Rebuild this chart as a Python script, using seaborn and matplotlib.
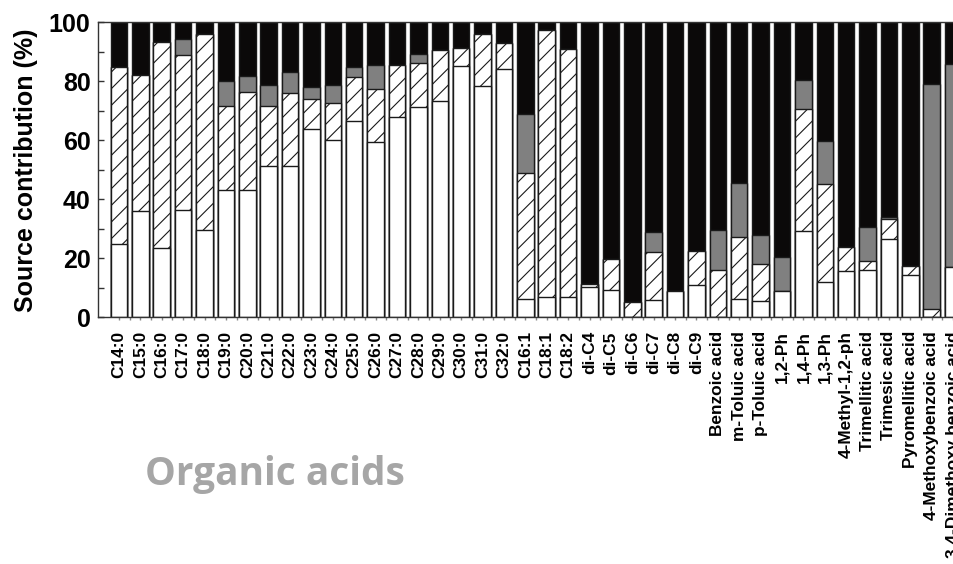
import matplotlib
matplotlib.use("Agg")
import matplotlib.pyplot as plt
from matplotlib.ticker import MultipleLocator, FixedLocator
import numpy as np
import pandas as pd
import seaborn as sns

# Compounds on the x axis
compounds = [
    "C14:0", "C15:0", "C16:0", "C17:0", "C18:0", "C19:0", "C20:0", "C21:0",
    "C22:0", "C23:0", "C24:0", "C25:0", "C26:0", "C27:0", "C28:0", "C29:0",
    "C30:0", "C31:0", "C32:0", "C16:1", "C18:1", "C18:2",
    "di-C4", "di-C5", "di-C6", "di-C7", "di-C8", "di-C9",
    "Benzoic acid", "m-Toluic acid", "p-Toluic acid", "1,2-Ph", "1,4-Ph",
    "1,3-Ph", "4-Methyl-1,2-ph", "Trimellitic acid", "Trimesic acid",
    "Pyromellitic acid", "4-Methoxybenzoic acid", "3,4-Dimethoxy benzoic acid",
]

# Source contributions (%), one value per compound for each source
source_white = [
    25.0, 36.0, 23.5, 36.5, 29.7, 43.3, 43.3, 51.2,
    51.2, 63.7, 60.0, 66.4, 59.5, 67.8, 71.4, 73.3,
    85.2, 78.3, 84.3, 6.1, 7.0, 7.0,
    10.2, 9.2, 0.0, 6.0, 8.8, 11.0,
    0.0, 6.1, 5.5, 8.8, 29.2,
    11.9, 15.6, 16.2, 26.4,
    14.3, 0.0, 17.1,
]
source_hatched = [
    59.7, 46.3, 69.9, 52.5, 66.5, 28.4, 33.2, 20.5,
    24.8, 10.2, 12.7, 15.0, 17.9, 17.7, 14.9, 17.2,
    6.2, 17.8, 8.6, 42.8, 90.4, 84.0,
    1.2, 10.6, 5.3, 16.1, 0.0, 11.5,
    16.2, 21.2, 12.4, 0.0, 41.3,
    33.3, 8.2, 2.8, 6.9,
    3.0, 2.8, 0.0,
]
source_gray = [
    0.0, 0.0, 0.0, 5.3, 0.0, 8.3, 5.4, 6.9,
    7.3, 4.2, 5.9, 3.6, 8.0, 0.0, 2.9, 0.0,
    0.0, 0.0, 0.0, 19.9, 0.0, 0.0,
    0.0, 0.0, 0.0, 6.9, 0.0, 0.0,
    13.5, 18.2, 10.0, 11.7, 10.1,
    14.5, 0.0, 11.7, 0.7,
    0.0, 76.3, 68.9,
]

white = np.array(source_white)
hatched = np.array(source_hatched)
gray = np.array(source_gray)
black = 100.0 - white - hatched - gray

df = pd.DataFrame({
    "compound": compounds,
    "top_black": white + hatched + gray + black,
    "top_gray": white + hatched + gray,
    "top_hatched": white + hatched,
    "top_white": white,
})

sns.set_style("ticks")
plt.rcParams["font.family"] = ["Liberation Sans", "DejaVu Sans"]
plt.rcParams["hatch.linewidth"] = 0.8
plt.rcParams["hatch.color"] = "#111111"
plt.rcParams["text.color"] = "black"
plt.rcParams["axes.labelcolor"] = "black"
plt.rcParams["xtick.labelcolor"] = "black"
plt.rcParams["ytick.labelcolor"] = "black"

W, H, DPI = 954, 564, 100
fig = plt.figure(figsize=(W / DPI, H / DPI), dpi=DPI)
ax_left, ax_right, ax_top, ax_bottom = 97.5, 974.5, 22.3, 317.3
ax = fig.add_axes([ax_left / W, (H - ax_bottom) / H,
                   (ax_right - ax_left) / W, (ax_bottom - ax_top) / H])

bar_kw = dict(width=0.77, saturation=1, edgecolor="#1a1a1a", linewidth=1.0,
              errorbar=None, ax=ax)
# Overlapping cumulative bars, drawn from the tallest layer down
sns.barplot(data=df, x="compound", y="top_black", color="#0b0909", **bar_kw)
sns.barplot(data=df, x="compound", y="top_gray", color="#808080", **bar_kw)
sns.barplot(data=df, x="compound", y="top_hatched", color="white", hatch="//", **bar_kw)
sns.barplot(data=df, x="compound", y="top_white", color="white", **bar_kw)

ax.set_xlim(-1.003, 40)
ax.set_ylim(0, 100)
ax.set_xlabel("")
ax.set_ylabel("Source contribution (%)", fontsize=18, fontweight="bold",
              labelpad=8, color="black")

ax.yaxis.set_major_locator(MultipleLocator(20))
ax.yaxis.set_minor_locator(MultipleLocator(10))
ax.tick_params(axis="y", which="both", direction="in", length=4, width=1,
               color="#333333", labelsize=18, pad=5, labelcolor="black")
for lbl in ax.get_yticklabels():
    lbl.set_fontweight("bold")

n = len(compounds)
ax.set_xticks(range(n))
ax.set_xticklabels(compounds, rotation=90, fontsize=12.4, fontweight="bold",
                   color="black")
ax.xaxis.set_minor_locator(FixedLocator(np.arange(n) + 0.5))
ax.tick_params(axis="x", which="both", direction="out", length=2, width=1,
               color="#888888", pad=8)

for side in ("left", "bottom", "top", "right"):
    ax.spines[side].set_visible(True)
    ax.spines[side].set_color("#333333")
    ax.spines[side].set_linewidth(1.0)

fig.text(145 / W, 1 - 485 / H, "Organic acids", fontsize=28, fontweight="bold",
         family=["Open Sans", "DejaVu Sans"], color="#a6a6a6",
         ha="left", va="baseline")

fig.savefig("out.png", dpi=DPI)
